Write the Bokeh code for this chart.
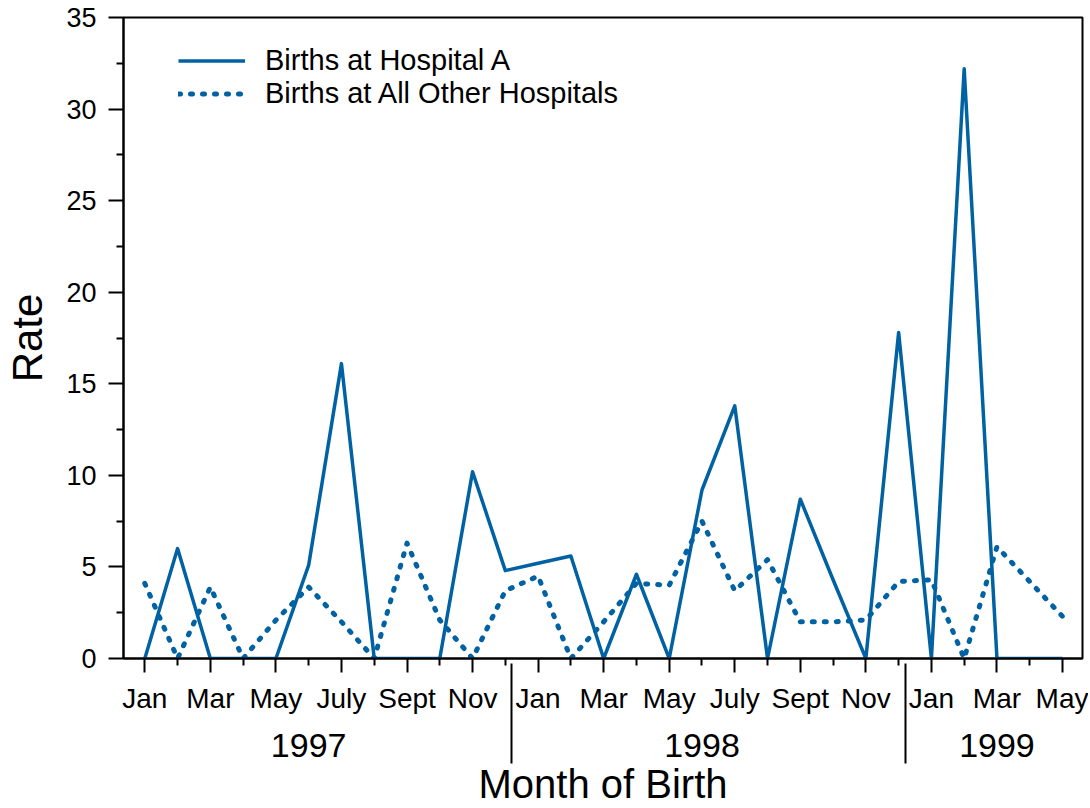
from bokeh.plotting import figure
from bokeh.models import Range1d, LinearAxis, FixedTicker, Legend, LegendItem
from bokeh.embed import file_html
from bokeh.resources import INLINE

# ---- data ----
month_index = list(range(29))  # Jan 1997 .. May 1999
hospital_a = [0, 6.0, 0, 0, 0, 5.1, 16.1, 0, 0, 0, 10.2, 4.8,
              5.2, 5.6, 0, 4.6, 0, 9.2, 13.8, 0, 8.7, 4.3, 0, 17.8,
              0, 32.2, 0, 0, 0]
other_hospitals = [4.1, 0, 3.9, 0, 2.1, 3.9, 2.0, 0, 6.3, 2.1, 0, 3.7,
                   4.5, 0, 2.0, 4.1, 4.0, 7.5, 3.7, 5.4, 2.0, 2.0, 2.1, 4.2,
                   4.3, 0, 6.1, 4.2, 2.3]
month_tick_labels = ["Jan", "Mar", "May", "July", "Sept", "Nov",
                     "Jan", "Mar", "May", "July", "Sept", "Nov",
                     "Jan", "Mar", "May"]
years = ["1997", "1998", "1999"]
year_label_pos = [5, 17, 26]
year_breaks = [11.2, 23.2]
y_ticks = [0, 5, 10, 15, 20, 25, 30, 35]
y_minor = [2.5, 7.5, 12.5, 17.5, 22.5, 27.5, 32.5]

FONT = "Liberation Sans"
BLUE = "#0062a3"
MONTH_PANEL = 53   # height of the month-label axis band below the frame
SEP_LEN = 100      # separator length below the x axis line
SEP_OUT = SEP_LEN - MONTH_PANEL

p = figure(width=1088, height=808, output_backend="svg", toolbar_location=None,
           x_range=Range1d(-0.65, 28.61), y_range=Range1d(0, 35),
           x_axis_type=None, y_axis_type=None,
           min_border_left=123, min_border_right=6, min_border_top=17,
           min_border_bottom=150)
p.xgrid.visible = False
p.ygrid.visible = False
p.outline_line_color = "black"
p.outline_line_width = 2
p.background_fill_color = "white"
p.border_fill_color = "white"

# y axis
yaxis = LinearAxis(ticker=FixedTicker(ticks=y_ticks, minor_ticks=y_minor),
                   axis_label="Rate", axis_label_text_font=FONT,
                   axis_label_text_font_size="42px", axis_label_text_font_style="normal",
                   axis_label_text_color="black", axis_label_standoff=12,
                   major_label_text_font=FONT, major_label_text_font_size="27px",
                   major_label_text_color="black", major_label_standoff=12,
                   major_tick_out=15, major_tick_in=0, minor_tick_out=7, minor_tick_in=0,
                   axis_line_width=2, major_tick_line_width=2, minor_tick_line_width=2)
p.add_layout(yaxis, "left")

# month axis
major_x = month_index[0::2]
minor_x = month_index[1::2]
xaxis = LinearAxis(ticker=FixedTicker(ticks=major_x, minor_ticks=minor_x),
                   major_label_overrides={m: lab for m, lab in zip(major_x, month_tick_labels)},
                   major_label_text_font=FONT, major_label_text_font_size="28px",
                   major_label_text_color="black", major_label_standoff=10,
                   major_tick_out=14, major_tick_in=0, minor_tick_out=7, minor_tick_in=0,
                   axis_line_width=2, major_tick_line_width=2, minor_tick_line_width=2)
p.add_layout(xaxis, "below")

# year axis: year labels, axis title, and year separators as its minor ticks
year_axis = LinearAxis(ticker=FixedTicker(ticks=year_label_pos, minor_ticks=year_breaks),
                       major_label_overrides={m: y for m, y in zip(year_label_pos, years)},
                       major_label_text_font=FONT, major_label_text_font_size="34px",
                       major_label_text_color="black", major_label_standoff=17 - SEP_OUT,
                       axis_line_color=None, major_tick_line_color=None,
                       major_tick_out=0, major_tick_in=0,
                       minor_tick_line_color="black", minor_tick_line_width=2,
                       minor_tick_in=MONTH_PANEL, minor_tick_out=SEP_OUT,
                       axis_label="Month of Birth", axis_label_text_font=FONT,
                       axis_label_text_font_size="40px", axis_label_text_font_style="normal",
                       axis_label_text_color="black", axis_label_standoff=2)
p.add_layout(year_axis, "below")

r1 = p.line(month_index, hospital_a, line_color=BLUE, line_width=3.5, line_join="round")
r2 = p.line(month_index, other_hospitals, line_color=BLUE, line_width=5,
            line_dash="2 10", line_cap="round", line_join="round")

legend = Legend(items=[LegendItem(label="Births at Hospital A", renderers=[r1]),
                       LegendItem(label="Births at All Other Hospitals", renderers=[r2])],
                location=(55, 548), border_line_color=None, background_fill_alpha=0,
                padding=0, margin=0, spacing=0, glyph_width=67, glyph_height=33,
                label_height=33, label_standoff=20, label_text_font=FONT,
                label_text_font_size="29px", label_text_color="black")
p.add_layout(legend)

open("out.html", "w").write(file_html(p, INLINE))
